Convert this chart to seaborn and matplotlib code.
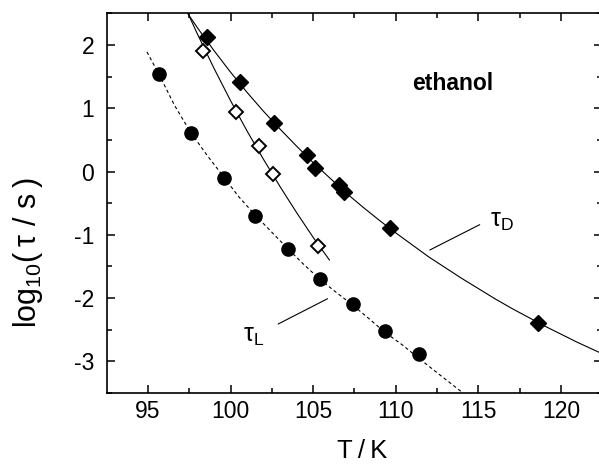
import matplotlib
matplotlib.use("Agg")
import matplotlib.pyplot as plt
import seaborn as sns

# ---- data ----
T_L = [95.66, 97.58, 99.60, 101.50, 103.47, 105.39, 107.44, 109.34, 111.39]
logtau_L = [1.54, 0.61, -0.10, -0.70, -1.22, -1.70, -2.09, -2.52, -2.88]

T_open = [98.33, 100.35, 101.70, 102.56, 105.28]
logtau_open = [1.91, 0.94, 0.41, -0.04, -1.18]

T_D = [98.57, 100.55, 102.66, 104.62, 105.10, 106.57, 106.84, 109.68, 118.59]
logtau_D = [2.12, 1.42, 0.76, 0.26, 0.05, -0.21, -0.32, -0.90, -2.39]

# fit curves
fitD_T = [97.40, 98, 99, 100, 101, 102, 103, 104, 105, 106, 107, 108, 109, 110,
          111, 112, 113, 114, 115, 116, 117, 118, 119, 120, 121, 122, 122.5]
fitD_y = [2.50, 2.27, 1.91, 1.57, 1.25, 0.95, 0.67, 0.40, 0.14, -0.10, -0.34,
          -0.56, -0.77, -0.97, -1.16, -1.35, -1.52, -1.69, -1.85, -2.01, -2.16,
          -2.30, -2.44, -2.57, -2.70, -2.82, -2.88]

fitO_T = [97.42, 98, 99, 100, 101, 102, 103, 104, 105, 105.99]
fitO_y = [2.50, 2.17, 1.63, 1.12, 0.64, 0.19, -0.24, -0.65, -1.04, -1.40]

fitL_T = [94.94, 95.66, 96.6, 97.58, 98.6, 99.60, 100.5, 101.50, 102.5, 103.47,
          104.4, 105.39, 106.4, 107.44, 108.4, 109.34, 110.4, 111.39, 112.7, 114.07]
fitL_y = [1.89, 1.54, 1.05, 0.62, 0.25, -0.09, -0.40, -0.69, -0.96, -1.22,
          -1.46, -1.70, -1.91, -2.12, -2.33, -2.54, -2.74, -2.95, -3.22, -3.50]

xlim = (92.5, 122.5)
ylim = (-3.5, 2.5)
xticks = [95, 100, 105, 110, 115, 120]
yticks = [-3, -2, -1, 0, 1, 2]

sns.set_theme(style="ticks")
plt.rcParams['font.family'] = ['Liberation Sans', 'DejaVu Sans']
plt.rcParams['mathtext.fontset'] = 'custom'
plt.rcParams['mathtext.rm'] = 'Liberation Sans'
plt.rcParams['mathtext.it'] = 'Liberation Sans:italic'
plt.rcParams['mathtext.bf'] = 'Liberation Sans:bold'
for k in ['text.color', 'axes.labelcolor', 'xtick.color', 'ytick.color', 'axes.edgecolor']:
    plt.rcParams[k] = 'black'

fig = plt.figure(figsize=(5.99, 4.65), dpi=100)
ax = fig.add_axes([0.178, 0.1548, 0.8275, 0.8166])

lw = 0.8
sns.lineplot(x=fitD_T, y=fitD_y, ax=ax, color='black', lw=lw, sort=False, estimator=None)
sns.lineplot(x=fitO_T, y=fitO_y, ax=ax, color='black', lw=lw, sort=False, estimator=None)
sns.lineplot(x=fitL_T, y=fitL_y, ax=ax, color='black', lw=lw, sort=False, estimator=None)
ax.lines[-1].set_linestyle((0, (3, 2.5)))

ax.plot(T_L, logtau_L, 'o', color='black', ms=9.5, mec='black', zorder=3)
ax.plot(T_D, logtau_D, 'D', color='black', ms=8.6, mec='black', zorder=3)
ax.plot(T_open, logtau_open, 'D', color='white', ms=7.2, mec='black', mew=1.4, zorder=3)

# label lines
ax.plot([112.06, 115.08], [-1.24, -0.84], color='black', lw=lw)
ax.plot([102.88, 105.87], [-2.41, -2.01], color='black', lw=lw)
ax.text(115.69, -0.87, 'τ$_\\mathregular{D}$', fontsize=18, ha='left', va='baseline')
ax.text(100.73, -2.69, 'τ$_\\mathregular{L}$', fontsize=18, ha='left', va='baseline')
ax.text(113.47, 1.395, 'ethanol', fontsize=16.5, fontweight='bold', ha='center', va='center')

ax.set_xlim(*xlim)
ax.set_ylim(*ylim)
ax.set_xticks(xticks)
ax.set_yticks(yticks)
ax.set_xticks([97.5, 102.5, 107.5, 112.5, 117.5, 122.5], minor=True)
ax.set_yticks([-3.5, -2.5, -1.5, -0.5, 0.5, 1.5, 2.5], minor=True)
ax.set_yticklabels([str(v) for v in yticks])
ax.tick_params(which='both', direction='in', top=True, right=True, width=1.1, color='black',
               labelsize=16.5, labelcolor='black')
ax.tick_params(which='major', length=5.8)
ax.tick_params(which='minor', length=3.6)
ax.tick_params(axis='y', pad=9)
ax.tick_params(axis='x', pad=5)
for s in ax.spines.values():
    s.set_linewidth(1.2)
    s.set_color('black')

ax.set_xlabel('T\u2009/\u2009K', fontsize=18.5)
ax.xaxis.set_label_coords((362 - 106.7) / 495.7, -(463 - 393) / 379.7)
ax.xaxis.label.set_va('bottom')
ax.set_ylabel('log$_\\mathregular{10}$(\u2009τ / s\u2009)', fontsize=22)
ax.yaxis.set_label_coords((28 - 106.7) / 495.7, (393 - 252) / 379.7)
ax.yaxis.label.set_va('center')

fig.savefig('out.png', dpi=100)
